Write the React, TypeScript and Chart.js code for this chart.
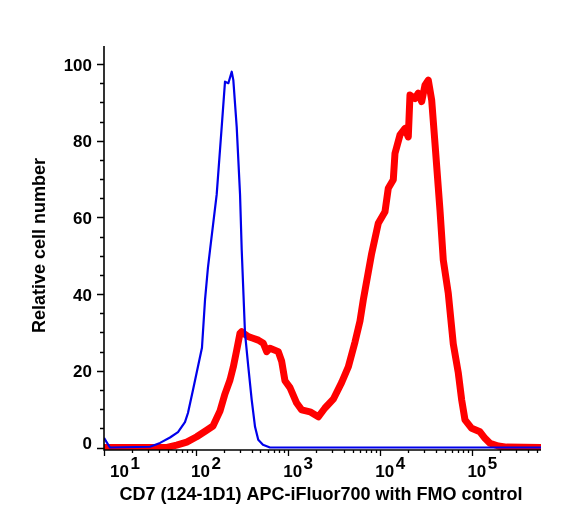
import React, { useEffect, useRef } from "react";
import { Chart, registerables } from "chart.js";

Chart.register(...registerables);

// FMO control (blue)
const blueX = [10, 11.6, 31.6, 40.6, 52.1, 63.6, 75.7, 81.6, 92.5, 115.8, 125, 134.6, 141.6, 167.4, 189.7, 206, 224, 243.6, 253.7, 276, 300, 312.9, 339.7, 369, 401.6, 436.5, 473, 532, 634, 556000];
const blueY = [2.5, 0, 0.2, 1.2, 2.6, 4, 6.6, 9, 15, 26, 38.5, 47, 51.5, 66, 83.6, 95.4, 95, 98, 95.8, 83.6, 66, 51.5, 29.8, 21, 12.4, 5.4, 2, 0.7, 0, 0];

// CD7 stained (red)
const redX = [10, 48.3, 61.5, 79.1, 101.5, 130.3, 152.6, 181.8, 206, 233.4, 253.5, 276, 299.8, 312.6, 339.6, 369, 415, 473.6, 536.6, 584.3, 634, 780.7, 849.6, 922.5, 1046, 1236, 1401, 1725, 2123, 2509, 3089, 3811, 4493, 5313, 6020, 6539, 8064, 9513, 11246, 12216, 13844, 14442, 16366, 18545, 20137, 21012, 23814, 25856, 28150, 30569, 33204, 36140, 39264, 44480, 48306, 54733, 62021, 70280, 76525, 83117, 98265, 120900, 137000, 155200, 191100, 235700, 556000];
const redY = [0, 0, 0.6, 1.4, 2.8, 4.5, 5.6, 9.5, 14, 17.6, 21, 25.4, 29.8, 30.2, 29.5, 28.9, 28.5, 28, 27.2, 25, 25.9, 25, 22.5, 17.4, 15.6, 11.6, 9.8, 9.3, 8, 10.3, 12.6, 17, 21, 27.5, 33, 38.5, 50.6, 58.5, 61.5, 67.6, 69.8, 76.7, 81.5, 83.2, 81, 91.9, 91, 92.4, 90.2, 94.5, 95.8, 90.6, 79.3, 61.9, 48.9, 40.2, 27, 19.5, 12.4, 7.2, 5, 4.1, 2.4, 1.1, 0.4, 0.1, 0];

const yTickValues = [0, 20, 40, 60, 80, 100];
const yTickLabels = ["0", "20", "40", "60", "80", "100"];
const yMinorValues = [5, 10, 15, 25, 30, 35, 45, 50, 55, 65, 70, 75, 85, 90, 95];
const xDecadeExponents = [1, 2, 3, 4, 5];
const xTitle = "CD7 (124-1D1) APC-iFluor700 with FMO control";
const yTitle = "Relative cell number";

const X_MIN = 10;
const X_MAX = 556000;
const Y_MIN = -0.65;
const Y_MAX = 104.7;

const FONT = "'Liberation Sans', Arial, Helvetica, sans-serif";

const axesPlugin = {
  id: "flowAxes",
  afterDraw(chart: any) {
    const { ctx, chartArea } = chart;
    const xs = chart.scales.x;
    const ys = chart.scales.y;
    const L = chartArea.left;
    const R = chartArea.right;
    const T = chartArea.top;
    const B = chartArea.bottom;
    ctx.save();
    ctx.strokeStyle = "#000";
    ctx.fillStyle = "#000";
    ctx.lineWidth = 1.6;
    ctx.beginPath();
    ctx.moveTo(L, T);
    ctx.lineTo(L, B);
    ctx.lineTo(R, B);
    ctx.stroke();

    ctx.lineWidth = 1.3;
    ctx.beginPath();
    for (const v of yTickValues) {
      const py = Math.round(ys.getPixelForValue(v)) + 0.5;
      ctx.moveTo(L, py);
      ctx.lineTo(L - 7, py);
    }
    for (const v of yMinorValues) {
      const py = Math.round(ys.getPixelForValue(v)) + 0.5;
      ctx.moveTo(L, py);
      ctx.lineTo(L - 4, py);
    }
    ctx.stroke();

    ctx.beginPath();
    for (let e = 1; e <= 5; e++) {
      for (let m = 1; m <= 9; m++) {
        const v = m * Math.pow(10, e);
        if (v > X_MAX) break;
        const px = Math.round(xs.getPixelForValue(v)) + 0.5;
        ctx.moveTo(px, B);
        ctx.lineTo(px, B + (m === 1 ? 6 : 3));
      }
    }
    ctx.stroke();

    ctx.font = `bold 17px ${FONT}`;
    ctx.textAlign = "right";
    ctx.textBaseline = "alphabetic";
    yTickValues.forEach((v, i) => {
      const py = ys.getPixelForValue(v);
      ctx.fillText(yTickLabels[i], L - 12, py + (v === 0 ? 1.5 : 6.5));
    });

    ctx.textAlign = "left";
    for (const e of xDecadeExponents) {
      const px = xs.getPixelForValue(Math.pow(10, e));
      const bx = e === 1 ? px + 6 : px - 5;
      ctx.fillText("10", bx, 477);
      const w = ctx.measureText("10").width;
      ctx.fillText(String(e), bx + w + 1.5, 469);
    }

    ctx.font = `bold 18px ${FONT}`;
    ctx.textAlign = "center";
    ctx.fillText(xTitle, 321, 500);
    ctx.save();
    ctx.translate(45, 245.5);
    ctx.rotate(-Math.PI / 2);
    ctx.fillText(yTitle, 0, 0);
    ctx.restore();
    ctx.restore();
  },
};

export default function App() {
  const ref = useRef<HTMLCanvasElement | null>(null);
  useEffect(() => {
    document.body.style.margin = "0";
    const canvas = ref.current;
    if (!canvas) return;
    const chart = new Chart(canvas, {
      type: "line",
      data: {
        datasets: [
          {
            label: "FMO control",
            data: blueX.map((x, i) => ({ x, y: blueY[i] })),
            borderColor: "rgb(0,0,235)",
            borderWidth: 2.2,
            pointRadius: 0,
            tension: 0,
            fill: false,
            borderJoinStyle: "round",
          },
          {
            label: "CD7",
            data: redX.map((x, i) => ({ x, y: redY[i] })),
            borderColor: "rgb(255,0,0)",
            borderWidth: 7,
            pointRadius: 0,
            tension: 0,
            fill: false,
            borderJoinStyle: "round",
            borderCapStyle: "round",
          },
        ],
      },
      options: {
        animation: false,
        responsive: false,
        maintainAspectRatio: false,
        layout: { padding: { left: 104, top: 46, right: 20, bottom: 70 } },
        plugins: { legend: { display: false }, tooltip: { enabled: false } },
        scales: {
          x: { type: "logarithmic", min: X_MIN, max: X_MAX, display: false },
          y: { type: "linear", min: Y_MIN, max: Y_MAX, display: false },
        },
      },
      plugins: [axesPlugin],
    } as any);
    return () => chart.destroy();
  }, []);
  return (
    <div style={{ width: 561, height: 520, background: "#fff" }}>
      <canvas ref={ref} width={561} height={520} style={{ display: "block" }} />
    </div>
  );
}
